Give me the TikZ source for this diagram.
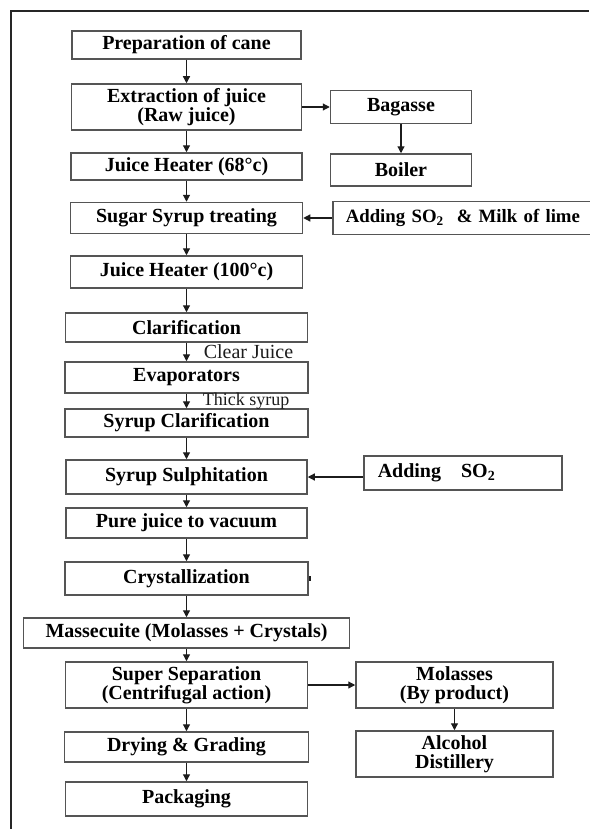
\documentclass[tikz,border=0pt]{standalone}
\usepackage{fontspec}
\setmainfont{Liberation Serif}
\definecolor{CaneInk}{HTML}{1C1C1C}
\definecolor{CaneRule}{HTML}{555555}
\definecolor{CaneFrame}{HTML}{262626}
\usepackage{tikz}
\usetikzlibrary{arrows.meta}

\tikzset{
  stage/.style 2 args={rectangle,draw=CaneRule,line width=0.75pt,
    minimum width=#1*0.5pt,minimum height=#2*0.5pt,inner sep=1pt,
    font=\fontsize{10}{9.5}\selectfont\bfseries,align=center},
  flow/.style={draw=CaneInk,line width=0.6pt,
    -{Triangle[length=3.5pt,width=3.5pt]}},
  flowlabel/.style={font=\fontsize{10}{12}\selectfont,text=CaneInk,right},
}

\begin{document}
\begin{tikzpicture}[x=0.5pt,y=-0.5pt]
  \useasboundingbox (0,0) rectangle (589,829);
  \draw[CaneFrame,line width=1.2pt] (11,829) -- (11,11) -- (589,11);

  % main line
  \node[stage={229}{28}] (prep) at (186.5,45) {Preparation of cane};
  \node[stage={230}{46}] (extract) at (186.5,107) {Extraction of juice\\(Raw juice)};
  \node[stage={231}{27}] (heatA) at (186.5,166.5) {Juice Heater (68°c)};
  \node[stage={232}{31}] (treat) at (186.5,218) {Sugar Syrup treating};
  \node[stage={232}{32}] (heatB) at (186.5,272) {Juice Heater (100°c)};
  \node[stage={242}{29}] (clarif) at (186.5,327.5) {Clarification};
  \node[stage={243}{31}] (evap) at (186.5,377.5) {Evaporators};
  \node[stage={243}{28}] (syrclar) at (186.5,423) {Syrup Clarification};
  \node[stage={241}{34}] (sulph) at (186.5,477) {Syrup Sulphitation};
  \node[stage={241}{30}] (vacuum) at (186.5,523) {Pure juice to vacuum};
  \node[stage={243}{33}] (cryst) at (186.5,578.5) {Crystallization};
  \node[stage={326}{30}] (massecuite) at (186.5,633) {Massecuite (Molasses + Crystals)};
  \node[stage={242}{46}] (separate) at (186.5,685) {Super Separation\\(Centrifugal action)};
  \node[stage={244}{30}] (drying) at (186.5,747) {Drying \& Grading};
  \node[stage={242}{34}] (packing) at (186.5,799) {Packaging};

  % side branches
  \node[stage={141}{33}] (bagasse) at (401,107) {Bagasse};
  \node[stage={141}{32}] (boiler) at (401,170) {Boiler};
  \node[stage={270}{33},anchor=west,text width=140pt,inner xsep=6.5pt,align=left,
    font=\fontsize{9.4}{9.5}\selectfont\bfseries]
    (lime) at (332,218) {Adding SO\textsubscript{2}\ \ \& Milk of lime};
  \node[stage={197}{34},anchor=west,text width=85pt,inner xsep=7pt,align=left]
    (sulphite) at (363,473) {Adding\ \ \ SO\textsubscript{2}};
  \node[stage={197}{46}] (molasses) at (454.5,685) {Molasses\\(By product)};
  \node[stage={197}{46}] (alcohol) at (454.5,754) {Alcohol\\Distillery};

  \draw[flow] (prep) -- (extract);
  \draw[flow] (extract) -- (heatA);
  \draw[flow] (heatA) -- (treat);
  \draw[flow] (treat) -- (heatB);
  \draw[flow] (heatB) -- (clarif);
  \draw[flow] (clarif) -- node[flowlabel,xshift=5pt] {Clear Juice} (evap);
  \draw[flow] (evap) -- node[flowlabel,xshift=4.5pt,font=\fontsize{9}{10}\selectfont] {Thick syrup} (syrclar);
  \draw[flow] (syrclar) -- (sulph);
  \draw[flow] (sulph) -- (vacuum);
  \draw[flow] (vacuum) -- (cryst);
  \draw[flow] (cryst) -- (massecuite);
  \draw[flow] (massecuite) -- (separate);
  \draw[flow] (separate) -- (drying);
  \draw[flow] (drying) -- (packing);

  \draw[flow] (extract) -- (bagasse);
  \draw[flow] (bagasse) -- (boiler);
  \draw[flow] (lime) -- (treat);
  \draw[flow] (sulphite.west |- sulph) -- (sulph);
  \draw[flow] (separate) -- (molasses);
  \draw[flow] (molasses) -- (alcohol);

  \fill[CaneInk] (cryst.east) ++(0,-2.5) rectangle ++(2.5,5);
\end{tikzpicture}
\end{document}
